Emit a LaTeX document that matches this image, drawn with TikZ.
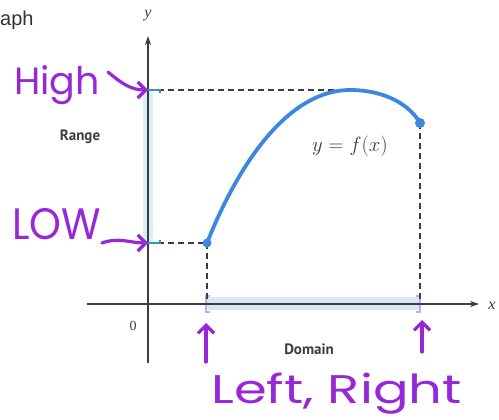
\documentclass[tikz,border=0pt]{standalone}
\usepackage{fontspec}
\setmainfont{Liberation Serif}
\newfontfamily\handfont{Poppins}
\newfontfamily\labelfont{PT Sans}
\newfontfamily\titlefont{Liberation Sans}
\usetikzlibrary{arrows.meta}
\definecolor{hand}{RGB}{150,40,215}
\definecolor{curveblue}{RGB}{60,135,225}
\definecolor{axisgray}{RGB}{60,60,60}
\definecolor{rangefill}{RGB}{215,240,246}
\definecolor{rangetick}{RGB}{40,155,180}
\definecolor{domfill}{RGB}{218,230,248}
\definecolor{dombracket}{RGB}{180,180,232}
\tikzset{
  axisline/.style={draw=axisgray, line width=1.3pt},
  guide/.style={draw=axisgray, line width=1.4pt, dash pattern=on 6pt off 4pt},
  handarrow/.style={draw=hand, line width=3.2pt, line cap=round, -{Straight Barb[length=8pt,width=16pt,line width=3.2pt]}},
  handtext/.style={text=hand, inner sep=0pt, anchor=base west, transform shape},
  boxlabel/.style={text=axisgray, font=\labelfont\bfseries\fontsize{15}{15}\selectfont, inner sep=0pt},
}
\begin{document}
\begin{tikzpicture}[x=1pt,y=-1pt]
\useasboundingbox (0,0) rectangle (499,420);
% bands
\fill[rangefill] (143,90) rectangle (153,243);
\fill[domfill] (207,297) rectangle (420,310);
\draw[dombracket, line width=1.5pt] (210,296) -- (206,296) -- (206,312) -- (210,312);
\draw[dombracket, line width=1.5pt] (416,296) -- (420,296) -- (420,312) -- (416,312);
% coordinates
\coordinate (ybot) at (148,363);
\coordinate (ytop) at (148,36);
\coordinate (xleft) at (87,304);
\coordinate (xright) at (479,304);
\coordinate (hi) at (148,90);
\coordinate (lo) at (148,243);
\coordinate (peak) at (350,90);
\coordinate (start) at (207,243);
\coordinate (endp) at (420,123);
\coordinate (startx) at (207,304);
\coordinate (endx) at (420,304);
% axes
\draw[axisline, -{Stealth[length=9pt,width=6pt]}] (ybot) -- (ytop);
\draw[axisline, -{Stealth[length=9pt,width=6pt]}] (xleft) -- (xright);
% dashed guides
\draw[guide] (hi) -- (peak);
\draw[guide] (lo) -- (start);
\draw[guide] (start) -- (startx);
\draw[guide] (endp) -- (endx);
% range ticks
\draw[rangetick, line width=1.8pt] (140,90) -- (160,90) -- (160,93);
\draw[rangetick, line width=1.8pt] (140,243) -- (160,243) -- (160,240);
% curve
\draw[curveblue, line width=3.8pt] (start) .. controls (240,160) and (290,90) .. (peak) .. controls (385,90) and (410,105) .. (endp);
\fill[curveblue] (start) circle (4.5pt);
\fill[curveblue] (endp) circle (5pt);
% labels
\node[font=\itshape\fontsize{16}{16}\selectfont, text=axisgray] (ylab) at (148,16) {y};
\node[font=\itshape\fontsize{16}{16}\selectfont, text=axisgray] (xlab) at (492,306) {x};
\node[font=\fontsize{14}{14}\selectfont, text=axisgray] (zero) at (133,326) {0};
\node[font=\fontsize{20}{20}\selectfont, text=axisgray] (fx) at (350,146) {$y = f(x)$};
\node[boxlabel] (range) at (80,137) {Range};
\node[boxlabel] (domain) at (309,349) {Domain};
\node[font=\titlefont\fontsize{20}{20}\selectfont, text=black!80, anchor=base west, inner sep=0pt] (title) at (0,26) {aph};
% handwriting
\node[handtext, font=\handfont\fontsize{38}{38}\selectfont] (high) at (14,95) {High};
\node[handtext, font=\handfont\fontsize{44}{44}\selectfont, xscale=0.92] (low) at (12,240) {LOW};
\node[handtext, font=\handfont\fontsize{40}{40}\selectfont, xscale=1.32] (lr) at (211,403) {Left, Right};
\coordinate (higharrowstart) at (108,72);
\coordinate (lowarrowstart) at (102,243);
\draw[handarrow] (higharrowstart) to[out=-40,in=180] (hi);
\draw[handarrow] (lowarrowstart) to[out=20,in=180] (lo);
\coordinate (larrow) at (206,362);
\coordinate (rarrow) at (422,352);
\draw[handarrow] (larrow) -- (206,323);
\draw[handarrow] (rarrow) -- (422,320);
\end{tikzpicture}
\end{document}
